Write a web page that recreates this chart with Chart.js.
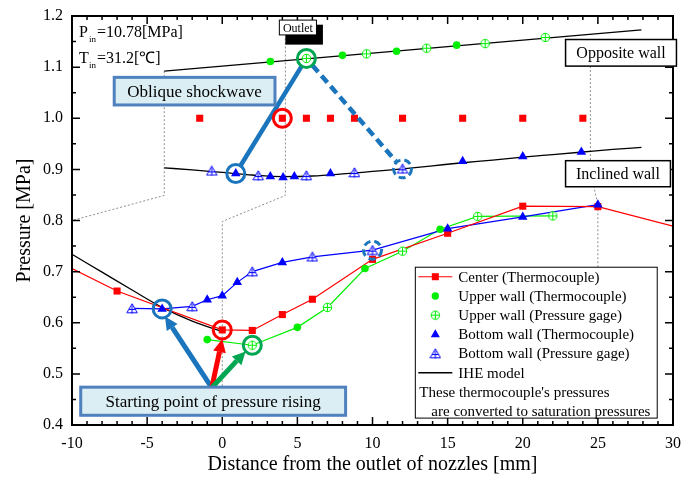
<!DOCTYPE html>
<html>
<head>
<meta charset="utf-8">
<script src="https://cdn.jsdelivr.net/npm/chart.js@4.4.0/dist/chart.umd.min.js"></script>
<style>
  html, body { margin: 0; padding: 0; background: #fff; }
</style>
</head>
<body>
<canvas id="chart" width="694" height="479"></canvas>
<script>
// ----- Data -----
const xTicks = [-10, -5, 0, 5, 10, 15, 20, 25, 30];
const yTicks = [0.4, 0.5, 0.6, 0.7, 0.8, 0.9, 1.0, 1.1, 1.2];

// Center (Thermocouple) - line through the jet
const centerX = [-10, -7, 0, 2, 4, 6, 10, 15, 20, 25, 30];
const centerY = [0.706, 0.662, 0.586, 0.585, 0.616, 0.646, 0.724, 0.775, 0.828, 0.827, 0.789];
// Center (Thermocouple) - saturated row
const centerSatX = [-1.5, 4, 5.6, 7.2, 8.8, 12, 16, 20, 24];
const centerSatY = [1.0, 1.0, 1.0, 1.0, 1.0, 1.0, 1.0, 1.0, 1.0];

// Upper wall
const upperTcX = [-1, 5, 9.5, 14.5];
const upperTcY = [0.567, 0.591, 0.706, 0.783];
const upperTcTopX = [3.2, 8.0, 11.6, 15.6];
const upperTcTopY = [1.111, 1.123, 1.131, 1.143];
const upperGageX = [2, 7, 12, 17, 22];
const upperGageY = [0.556, 0.630, 0.740, 0.808, 0.809];
const upperGageTopX = [5.6, 9.6, 13.6, 17.5, 21.5];
const upperGageTopY = [1.117, 1.126, 1.137, 1.146, 1.158];

// Bottom wall
const bottomTcX = [-4, -1, 0, 1, 4, 15, 20, 25];
const bottomTcY = [0.627, 0.645, 0.653, 0.679, 0.718, 0.784, 0.807, 0.831];
const bottomTcTopX = [0.9, 3.2, 4.05, 4.8, 7.2, 16, 20, 23.9];
const bottomTcTopY = [0.892, 0.886, 0.884, 0.886, 0.892, 0.916, 0.925, 0.934];
const bottomGageX = [-6, -2, 2, 6, 10];
const bottomGageY = [0.628, 0.632, 0.700, 0.729, 0.742];
const bottomGageTopX = [-0.7, 2.4, 5.6, 8.8, 12];
const bottomGageTopY = [0.897, 0.888, 0.888, 0.894, 0.901];

// IHE model
const iheJetX = [-10, -8, -6, -4, -2, 0.1];
const iheJetY = [0.734, 0.699, 0.664, 0.630, 0.603, 0.582];
const iheOppX = [-3.86, 27.9];
const iheOppY = [1.092, 1.173];
const iheInclX = [-3.86, -2, 0, 2, 4, 6, 8, 10, 12, 14, 16, 18, 20, 22, 24, 26, 27.9];
const iheInclY = [0.903, 0.899, 0.894, 0.889, 0.886, 0.887, 0.891, 0.896, 0.901, 0.907, 0.913, 0.918, 0.924, 0.929, 0.934, 0.939, 0.943];

// Gray dotted guide lines
const guideLeftX = [-3.86, -3.86, -10];
const guideLeftY = [1.092, 0.849, 0.800];
const guideMidX = [4.2, 4.2, 0, 0];
const guideMidY = [1.156, 0.849, 0.798, 0.47];
const guideRightX = [24.5, 24.5, 25, 25];
const guideRightY = [1.102, 0.895, 0.832, 0.4];

// ----- Colors -----
const RED = "#ff0000";
const GREEN = "#00ee00";
const BLUE = "#0000ff";
const ANNO_BLUE = "#1a75bc";
const ANNO_GREEN = "#00a651";
const SERIF = "'Liberation Serif', 'Times New Roman', serif";

// ----- Helpers -----
function pts(xs, ys) {
  return xs.map((x, i) => ({ x: x, y: ys[i] }));
}
function gageCircle(color) {
  const c = document.createElement("canvas");
  c.width = 11; c.height = 11;
  const g = c.getContext("2d");
  g.strokeStyle = color; g.lineWidth = 1; g.fillStyle = "#fff";
  g.beginPath(); g.arc(5.5, 5.5, 4.2, 0, Math.PI * 2); g.fill(); g.stroke();
  g.beginPath();
  g.moveTo(1.3, 5.5); g.lineTo(9.7, 5.5);
  g.moveTo(5.5, 1.3); g.lineTo(5.5, 9.7);
  g.stroke();
  return c;
}
function gageTriangle(color) {
  const c = document.createElement("canvas");
  c.width = 12; c.height = 11;
  const g = c.getContext("2d");
  g.strokeStyle = color; g.lineWidth = 1; g.fillStyle = "#fff";
  g.beginPath(); g.moveTo(6, 0.8); g.lineTo(11.2, 9.8); g.lineTo(0.8, 9.8); g.closePath();
  g.fill(); g.stroke();
  g.beginPath();
  g.moveTo(6, 2.5); g.lineTo(6, 10.5);
  g.moveTo(3, 6.5); g.lineTo(9, 6.5);
  g.stroke();
  return c;
}
const upperGageImg = gageCircle(GREEN);
const bottomGageImg = gageTriangle(BLUE);

const upperLine = pts(upperTcX, upperTcY).concat(pts(upperGageX, upperGageY)).sort((a, b) => a.x - b.x);
const bottomLine = pts(bottomTcX, bottomTcY).concat(pts(bottomGageX, bottomGageY)).sort((a, b) => a.x - b.x);

function guide(xs, ys) {
  return {
    data: pts(xs, ys), showLine: true, pointRadius: 0, borderColor: "#8c8c8c",
    borderWidth: 1, borderDash: [2, 2], order: 20, clip: false,
  };
}
function ihe(xs, ys) {
  return {
    data: pts(xs, ys), showLine: true, pointRadius: 0, borderColor: "#000",
    borderWidth: 1.3, cubicInterpolationMode: "monotone", order: 10,
  };
}

// ----- Annotation drawing -----
function ring(ctx, x, y, color, dashed) {
  ctx.save();
  ctx.strokeStyle = color; ctx.lineWidth = 3;
  if (dashed) ctx.setLineDash([7, 4]);
  ctx.beginPath(); ctx.arc(x, y, 9, 0, Math.PI * 2); ctx.stroke();
  ctx.restore();
}
function trimmed(x0, y0, x1, y1, r0, r1) {
  const dx = x1 - x0, dy = y1 - y0, d = Math.hypot(dx, dy);
  return [x0 + dx * r0 / d, y0 + dy * r0 / d, x1 - dx * r1 / d, y1 - dy * r1 / d];
}
function arrow(ctx, x0, y0, x1, y1, color) {
  const ang = Math.atan2(y1 - y0, x1 - x0);
  const head = 13, half = 6.5;
  const bx = x1 - Math.cos(ang) * head, by = y1 - Math.sin(ang) * head;
  ctx.save();
  ctx.strokeStyle = color; ctx.fillStyle = color; ctx.lineWidth = 5;
  ctx.beginPath(); ctx.moveTo(x0, y0); ctx.lineTo(bx, by); ctx.stroke();
  ctx.beginPath();
  ctx.moveTo(x1, y1);
  ctx.lineTo(bx + Math.sin(ang) * half, by - Math.cos(ang) * half);
  ctx.lineTo(bx - Math.sin(ang) * half, by + Math.cos(ang) * half);
  ctx.closePath(); ctx.fill();
  ctx.restore();
}
function box(ctx, x0, y0, x1, y1, fill, stroke, lw, text, size) {
  ctx.save();
  ctx.fillStyle = fill; ctx.fillRect(x0, y0, x1 - x0, y1 - y0);
  ctx.strokeStyle = stroke; ctx.lineWidth = lw; ctx.strokeRect(x0, y0, x1 - x0, y1 - y0);
  ctx.fillStyle = "#000"; ctx.font = size + "px " + SERIF;
  ctx.textAlign = "center"; ctx.textBaseline = "middle";
  ctx.fillText(text, (x0 + x1) / 2, (y0 + y1) / 2 + 1);
  ctx.restore();
}

const decor = {
  id: "decor",
  afterDraw(chart) {
    const ctx = chart.ctx;
    const a = chart.chartArea;
    const X = (v) => chart.scales.x.getPixelForValue(v);
    const Y = (v) => chart.scales.y.getPixelForValue(v);

    // inward tick marks on all four sides + frame
    ctx.save();
    ctx.strokeStyle = "#000"; ctx.lineWidth = 1.5;
    ctx.beginPath();
    for (let v = -9; v < 30; v++) {
      const len = v % 5 === 0 ? 8 : 4;
      const px = X(v);
      ctx.moveTo(px, a.bottom); ctx.lineTo(px, a.bottom - len);
      ctx.moveTo(px, a.top); ctx.lineTo(px, a.top + len);
    }
    for (let k = 1; k < 16; k++) {
      const len = k % 2 === 0 ? 8 : 4;
      const py = Y(0.4 + k * 0.05);
      ctx.moveTo(a.left, py); ctx.lineTo(a.left + len, py);
      ctx.moveTo(a.right, py); ctx.lineTo(a.right - len, py);
    }
    ctx.stroke();
    ctx.lineWidth = 2;
    ctx.strokeRect(a.left, a.top, a.right - a.left, a.bottom - a.top);
    ctx.restore();

    // oblique shockwave lines
    let s = trimmed(X(0.9), Y(0.892), X(5.6), Y(1.117), 9, 9);
    ctx.save();
    ctx.strokeStyle = ANNO_BLUE; ctx.lineWidth = 4.5;
    ctx.beginPath(); ctx.moveTo(s[0], s[1]); ctx.lineTo(s[2], s[3]); ctx.stroke();
    s = trimmed(X(5.6), Y(1.117), X(12), Y(0.901), 9, 10);
    ctx.setLineDash([9, 5]);
    ctx.beginPath(); ctx.moveTo(s[0], s[1]); ctx.lineTo(s[2], s[3]); ctx.stroke();
    ctx.restore();

    // rings
    ring(ctx, X(0.9), Y(0.892), ANNO_BLUE, false);
    ring(ctx, X(5.6), Y(1.117), ANNO_GREEN, false);
    ring(ctx, X(4), Y(1.0), RED, false);
    ring(ctx, X(12), Y(0.901), ANNO_BLUE, true);
    ring(ctx, X(10), Y(0.742), ANNO_BLUE, true);
    ring(ctx, X(-4), Y(0.627), ANNO_BLUE, false);
    ring(ctx, X(0), Y(0.586), RED, false);
    ring(ctx, X(2), Y(0.556), ANNO_GREEN, false);

    // arrows
    const bx = X(-0.7), by = Y(0.473);
    arrow(ctx, bx, by, X(-3.81), Y(0.612), ANNO_BLUE);
    arrow(ctx, bx, by, X(0), Y(0.568), RED);
    arrow(ctx, bx, by, X(1.55), Y(0.544), ANNO_GREEN);

    // callout boxes
    box(ctx, X(-7.19), Y(1.080), X(3.51), Y(1.026), "#dbeef4", "#4f81bd", 3, "Oblique shockwave", 17);
    box(ctx, X(-9.42), Y(0.474), X(8.21), Y(0.419), "#dbeef4", "#4f81bd", 3, "Starting point of pressure rising", 17);
    box(ctx, X(22.85), Y(1.154), X(30.23), Y(1.102), "#fff", "#000", 1.5, "Opposite wall", 16);
    box(ctx, X(22.85), Y(0.917), X(29.83), Y(0.866), "#fff", "#000", 1.5, "Inclined wall", 16);

    // outlet label with shadow
    ctx.save();
    ctx.fillStyle = "#000";
    ctx.fillRect(X(4.2), Y(1.183), X(6.7) - X(4.2), Y(1.144) - Y(1.183));
    ctx.restore();
    box(ctx, X(3.8), Y(1.192), X(6.27), Y(1.163), "#fff", "#000", 1, "Outlet", 12);

    // inlet conditions
    ctx.save();
    ctx.fillStyle = "#000"; ctx.textBaseline = "alphabetic"; ctx.textAlign = "left";
    const tx = a.left + 7;
    ctx.font = "16px " + SERIF; ctx.fillText("P", tx, a.top + 21);
    ctx.font = "9px " + SERIF; ctx.fillText("in", tx + 10, a.top + 26);
    ctx.font = "16px " + SERIF; ctx.fillText("=10.78[MPa]", tx + 18, a.top + 21);
    ctx.fillText("T", tx, a.top + 47);
    ctx.font = "9px " + SERIF; ctx.fillText("in", tx + 10, a.top + 52);
    ctx.font = "16px " + SERIF; ctx.fillText("=31.2[\u2103]", tx + 18, a.top + 47);
    ctx.restore();

    // legend
    ctx.save();
    const lx0 = X(12.85), lx1 = X(28.95), ly0 = Y(0.7086), ly1 = Y(0.4135);
    ctx.fillStyle = "#fff"; ctx.fillRect(lx0, ly0, lx1 - lx0, ly1 - ly0);
    ctx.strokeStyle = "#000"; ctx.lineWidth = 1; ctx.strokeRect(lx0, ly0, lx1 - lx0, ly1 - ly0);
    const rowH = 19.2, r0 = ly0 + 9.5;
    const sx0 = lx0 + 3, sx1 = lx0 + 37, sxm = (sx0 + sx1) / 2, tx0 = lx0 + 43;
    ctx.font = "15px " + SERIF; ctx.textBaseline = "middle"; ctx.fillStyle = "#000";
    const labels = ["Center (Thermocouple)", "Upper wall (Thermocouple)", "Upper wall (Pressure gage)",
      "Bottom wall (Thermocouple)", "Bottom wall (Pressure gage)", "IHE model"];
    labels.forEach((t, i) => ctx.fillText(t, tx0, r0 + i * rowH + 1));
    // symbols
    let yy = r0;
    ctx.strokeStyle = RED; ctx.lineWidth = 1.2;
    ctx.beginPath(); ctx.moveTo(sx0, yy); ctx.lineTo(sx1, yy); ctx.stroke();
    ctx.fillStyle = RED; ctx.fillRect(sxm - 3.5, yy - 3.5, 7, 7);
    yy += rowH;
    ctx.fillStyle = GREEN; ctx.beginPath(); ctx.arc(sxm, yy, 3.7, 0, Math.PI * 2); ctx.fill();
    yy += rowH;
    ctx.drawImage(upperGageImg, sxm - 5.5, yy - 5.5);
    yy += rowH;
    ctx.fillStyle = BLUE; ctx.beginPath();
    ctx.moveTo(sxm, yy - 5); ctx.lineTo(sxm + 4.5, yy + 3); ctx.lineTo(sxm - 4.5, yy + 3); ctx.closePath(); ctx.fill();
    yy += rowH;
    ctx.drawImage(bottomGageImg, sxm - 6, yy - 5.5);
    yy += rowH;
    ctx.strokeStyle = "#000"; ctx.lineWidth = 1.3;
    ctx.beginPath(); ctx.moveTo(sx0, yy); ctx.lineTo(sx1, yy); ctx.stroke();
    ctx.fillStyle = "#000";
    ctx.fillText("These thermocouple's pressures", lx0 + 4, r0 + 6 * rowH + 1);
    ctx.fillText("are converted to saturation pressures", lx0 + 16, r0 + 7 * rowH + 1);
    ctx.restore();
  },
};

// ----- Chart -----
const ctx = document.getElementById("chart").getContext("2d");
new Chart(ctx, {
  type: "scatter",
  data: {
    datasets: [
      guide(guideLeftX, guideLeftY),
      guide(guideMidX, guideMidY),
      guide(guideRightX, guideRightY),
      ihe(iheJetX, iheJetY),
      ihe(iheOppX, iheOppY),
      ihe(iheInclX, iheInclY),
      {
        label: "Upper wall line", data: upperLine, showLine: true, pointRadius: 0,
        borderColor: GREEN, borderWidth: 1.2, order: 6,
      },
      {
        label: "Bottom wall line", data: bottomLine, showLine: true, pointRadius: 0,
        borderColor: BLUE, borderWidth: 1.2, order: 5,
      },
      {
        label: "Center (Thermocouple)", data: pts(centerX, centerY), showLine: true,
        borderColor: RED, borderWidth: 1.2, backgroundColor: RED, pointStyle: "rect",
        pointRadius: (c) => (c.raw && (c.raw.x <= -10 || c.raw.x >= 30) ? 0 : 5),
        pointBorderWidth: 0, order: 4, clip: 0,
      },
      {
        label: "Center saturated", data: pts(centerSatX, centerSatY), showLine: false,
        backgroundColor: RED, pointStyle: "rect", pointRadius: 5, pointBorderWidth: 0, order: 3,
      },
      {
        label: "Upper wall (Thermocouple)", data: pts(upperTcX, upperTcY).concat(pts(upperTcTopX, upperTcTopY)),
        showLine: false, backgroundColor: GREEN, pointStyle: "circle", pointRadius: 3.8,
        pointBorderWidth: 0, order: 2,
      },
      {
        label: "Upper wall (Pressure gage)", data: pts(upperGageX, upperGageY).concat(pts(upperGageTopX, upperGageTopY)),
        showLine: false, pointStyle: upperGageImg, order: 2,
      },
      {
        label: "Bottom wall (Thermocouple)", data: pts(bottomTcX, bottomTcY).concat(pts(bottomTcTopX, bottomTcTopY)),
        showLine: false, backgroundColor: BLUE, pointStyle: "triangle", pointRadius: 5.5,
        pointBorderWidth: 0, order: 1,
      },
      {
        label: "Bottom wall (Pressure gage)", data: pts(bottomGageX, bottomGageY).concat(pts(bottomGageTopX, bottomGageTopY)),
        showLine: false, pointStyle: bottomGageImg, order: 1,
      },
    ],
  },
  options: {
    responsive: false,
    animation: false,
    devicePixelRatio: 1,
    layout: { padding: { top: 16, right: 21, left: 0, bottom: 0 } },
    plugins: { legend: { display: false }, tooltip: { enabled: false } },
    scales: {
      x: {
        type: "linear", min: -10, max: 30,
        afterFit: (s) => { s.height = 54; s.paddingLeft = 0; s.paddingRight = 0; },
        afterBuildTicks: (s) => { s.ticks = xTicks.map((v) => ({ value: v })); },
        grid: { display: false, drawTicks: false },
        border: { display: false },
        ticks: { color: "#000", font: { family: SERIF, size: 16 }, padding: 9, maxRotation: 0 },
        title: {
          display: true, text: "Distance from the outlet of nozzles [mm]", color: "#000",
          font: { family: SERIF, size: 20 }, padding: { top: 0, bottom: 2 },
        },
      },
      y: {
        type: "linear", min: 0.4, max: 1.2,
        afterFit: (s) => { s.width = 72; s.paddingTop = 0; s.paddingBottom = 0; },
        afterBuildTicks: (s) => { s.ticks = yTicks.map((v) => ({ value: v })); },
        grid: { display: false, drawTicks: false },
        border: { display: false },
        ticks: {
          color: "#000", font: { family: SERIF, size: 16 }, padding: 9,
          callback: (v) => Number(v).toFixed(1),
        },
        title: {
          display: true, text: "Pressure [MPa]", color: "#000",
          font: { family: SERIF, size: 20 }, padding: { top: 13, bottom: 0 },
        },
      },
    },
  },
  plugins: [decor],
});
</script>
</body>
</html>
